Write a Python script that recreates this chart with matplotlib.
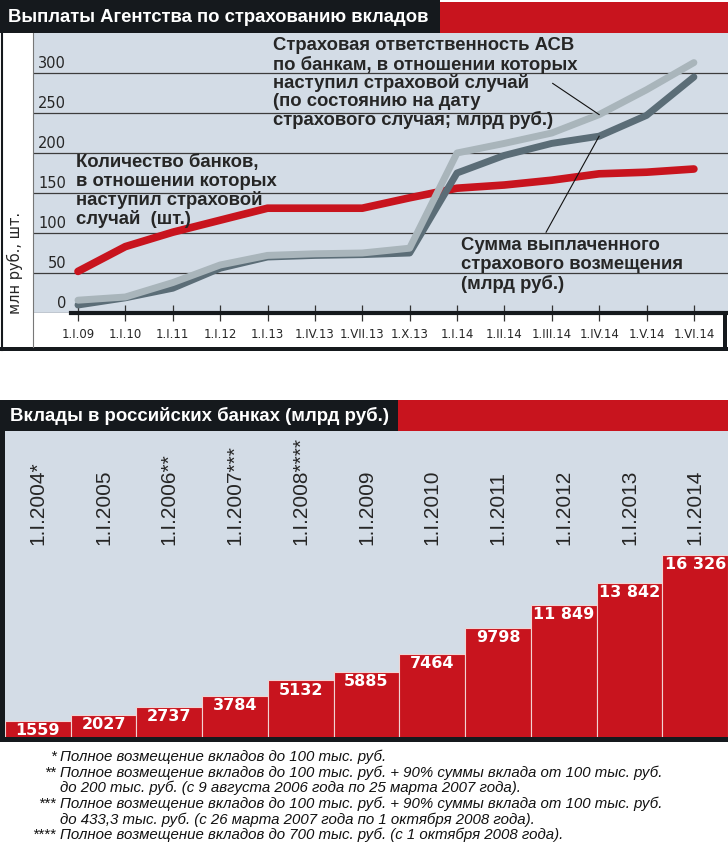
import matplotlib
matplotlib.use("Agg")
import matplotlib.pyplot as plt
from matplotlib import font_manager
from matplotlib.patches import Rectangle
from matplotlib.transforms import blended_transform_factory

# --- data: top chart (ASV payouts) ---
dates = ["1.I.09", "1.I.10", "1.I.11", "1.I.12", "1.I.13", "1.IV.13", "1.VII.13",
         "1.X.13", "1.I.14", "1.II.14", "1.III.14", "1.IV.14", "1.V.14", "1.VI.14"]
banks = [52, 83, 101, 116, 131, 131, 131, 144, 156, 160, 166, 174, 176, 180]
liability = [16, 20, 38, 60, 72, 74, 75, 81, 200, 212, 225, 248, 279, 313]
paid = [10, 19, 31, 56, 70, 72, 73, 75, 175, 197, 212, 221, 247, 295]
y_ticks = [0, 50, 100, 150, 200, 250, 300]

# --- data: bottom chart (deposits) ---
years = ["1.I.2004*", "1.I.2005", "1.I.2006**", "1.I.2007***", "1.I.2008****",
         "1.I.2009", "1.I.2010", "1.I.2011", "1.I.2012", "1.I.2013", "1.I.2014"]
deposits = [1559, 2027, 2737, 3784, 5132, 5885, 7464, 9798, 11849, 13842, 16326]

title_top = "Выплаты Агентства по страхованию вкладов"
title_bottom = "Вклады в российских банках (млрд руб.)"
note_liability = ["Страховая ответственность АСВ", "по банкам, в отношении которых",
                  "наступил страховой случай", "(по состоянию на дату",
                  "страхового случая; млрд руб.)"]
note_banks = ["Количество банков,", "в отношении которых", "наступил страховой",
              "случай  (шт.)"]
note_paid = ["Сумма выплаченного", "страхового возмещения", "(млрд руб.)"]
footnotes = [
    ("*", "Полное возмещение вкладов до 100 тыс. руб."),
    ("**", "Полное возмещение вкладов до 100 тыс. руб. + 90% суммы вклада от 100 тыс. руб."),
    ("", "до 200 тыс. руб. (с 9 августа 2006 года по 25 марта 2007 года)."),
    ("***", "Полное возмещение вкладов до 100 тыс. руб. + 90% суммы вклада от 100 тыс. руб."),
    ("", "до 433,3 тыс. руб. (с 26 марта 2007 года по 1 октября 2008 года)."),
    ("****", "Полное возмещение вкладов до 700 тыс. руб. (с 1 октября 2008 года)."),
]

RED = "#c8141e"
DARK = "#15191d"
BLUE = "#d3dce6"
LIGHT_GRAY = "#a9b5bb"
DARK_GRAY = "#5b6d77"
TEXT = "#262626"

names = {f.name for f in font_manager.fontManager.ttflist}
NARROW = "Liberation Sans Narrow" if "Liberation Sans Narrow" in names else "Liberation Sans"
note_size = 13.3 if NARROW == "Liberation Sans Narrow" else 10.8

W, H = 728, 843
fig = plt.figure(figsize=(W / 100, H / 100), dpi=100)


def frac(x0, y0, x1, y1):
    return [x0 / W, 1 - y1 / H, (x1 - x0) / W, (y1 - y0) / H]


bg = fig.add_axes([0, 0, 1, 1], zorder=0)
bg.set_xlim(0, W)
bg.set_ylim(H, 0)
bg.axis("off")

fg = fig.add_axes([0, 0, 1, 1], zorder=5)
fg.set_xlim(0, W)
fg.set_ylim(H, 0)
fg.axis("off")

# title bars
bg.add_patch(Rectangle((0, 0), 440, 33, fc=DARK, ec="none"))
bg.add_patch(Rectangle((440, 2), 288, 31, fc=RED, ec="none"))
bg.add_patch(Rectangle((0, 400), 398, 31, fc=DARK, ec="none"))
bg.add_patch(Rectangle((398, 400), 330, 31, fc=RED, ec="none"))
fg.text(8, 17, title_top, color="white", fontsize=13.3, fontweight="bold",
        family="Liberation Sans", va="center", ha="left")
fg.text(10, 416, title_bottom, color="white", fontsize=13.4, fontweight="bold",
        family="Liberation Sans", va="center", ha="left")

# ---------------- top chart ----------------
ax1 = fig.add_axes(frac(33, 33, 728, 313), zorder=1)
ax1.set_facecolor(BLUE)
x = list(range(len(dates)))
ax1.set_xlim(-0.95, len(dates) - 1 + 0.72)
ax1.set_ylim(0, 350)
for s in ax1.spines.values():
    s.set_visible(False)
ax1.set_yticks(y_ticks)
ax1.grid(axis="y", color="#3c3c3c", lw=0.9)
ax1.set_axisbelow(True)
ax1.tick_params(axis="y", left=False, labelleft=False)
ax1.set_xticks(x, dates)
ax1.tick_params(axis="x", direction="inout", length=11, width=0.9, color="#333333",
                pad=5, labelsize=8.5, labelcolor=TEXT)

ax1.plot(x, banks, color=RED, lw=5.5, solid_capstyle="round", solid_joinstyle="round", zorder=3)
ax1.plot(x, paid, color=DARK_GRAY, lw=5, solid_capstyle="round", solid_joinstyle="round", zorder=4)
ax1.plot(x, liability, color=LIGHT_GRAY, lw=5, solid_capstyle="round", solid_joinstyle="round", zorder=5)

ax1.axhline(0, xmin=(71 - 33) / 695, xmax=1, color=DARK, lw=3, zorder=6, clip_on=False)

ytr = blended_transform_factory(ax1.transAxes, ax1.transData)
for v in y_ticks:
    ax1.text(0.0475, v + 2, str(v), transform=ytr, ha="right", va="bottom",
             fontsize=10.5, color=TEXT)

# pointer lines
ax1.plot([10.02, 11], [287, liability[11]], color="#111111", lw=0.8, zorder=7)
ax1.plot([11, 9.88], [paid[11], 101], color="#111111", lw=0.8, zorder=7)

for i, line in enumerate(note_liability):
    fg.text(273, 46 + 18.5 * i, line, fontsize=13.3, fontweight="bold", color=TEXT,
            family="Liberation Sans", va="center", ha="left")
for i, line in enumerate(note_banks):
    fg.text(76, 162 + 19 * i, line, fontsize=13.3, fontweight="bold", color=TEXT,
            family="Liberation Sans", va="center", ha="left")
for i, line in enumerate(note_paid):
    fg.text(461, 245 + 19.5 * i, line, fontsize=13.3, fontweight="bold", color=TEXT,
            family="Liberation Sans", va="center", ha="left")

fg.text(15, 263, "млн руб., шт.", rotation=90, fontsize=10.5, color=TEXT,
        ha="center", va="center")

# frame around top panel
fg.plot([32.5, 32.5], [33, 347], color="#777777", lw=0.8)
fg.plot([2, 2], [33, 350], color=DARK, lw=1.5)
fg.add_patch(Rectangle((0, 347), 728, 4, fc=DARK, ec="none"))
fg.add_patch(Rectangle((723, 313), 4, 38, fc=DARK, ec="none"))

# ---------------- bottom chart ----------------
ax2 = fig.add_axes(frac(5, 431, 728, 738), zorder=1)
ax2.set_facecolor(BLUE)
xb = list(range(len(deposits)))
ax2.bar(xb, deposits, width=1.0, color=RED, edgecolor="#f1d3d3", lw=0.8)
ax2.set_xlim(-0.5, len(deposits) - 0.5)
ax2.set_ylim(0, max(deposits) / 0.596)
for s in ax2.spines.values():
    s.set_visible(False)
ax2.set_xticks([])
ax2.set_yticks([])

for i, v in enumerate(deposits):
    lab = f"{v:,}".replace(",", " ") if v >= 10000 else str(v)
    ax2.annotate(lab, (i, v), xytext=(0, -1.5), textcoords="offset points",
                 ha="center", va="top", color="white", fontsize=11.5,
                 fontweight="bold", family="DejaVu Sans")

btr = blended_transform_factory(ax2.transData, ax2.transAxes)
for i, lab in enumerate(years):
    ax2.text(i, 0.629, lab, transform=btr, rotation=90, ha="center", va="bottom",
             fontsize=15, family="Liberation Sans", color=TEXT)

fg.add_patch(Rectangle((0, 400), 5, 342, fc=DARK, ec="none"))
fg.add_patch(Rectangle((0, 737), 728, 5, fc=DARK, ec="none"))

# footnotes
for i, (mark, txt) in enumerate(footnotes):
    y = 757 + 15.6 * i
    if mark:
        fg.text(56, y, mark, ha="right", va="center", fontsize=note_size,
                family=NARROW, style="italic", color="#111111")
    fg.text(60, y, txt, ha="left", va="center", fontsize=note_size,
            family=NARROW, style="italic", color="#111111")

fig.savefig("out.png", dpi=100)
